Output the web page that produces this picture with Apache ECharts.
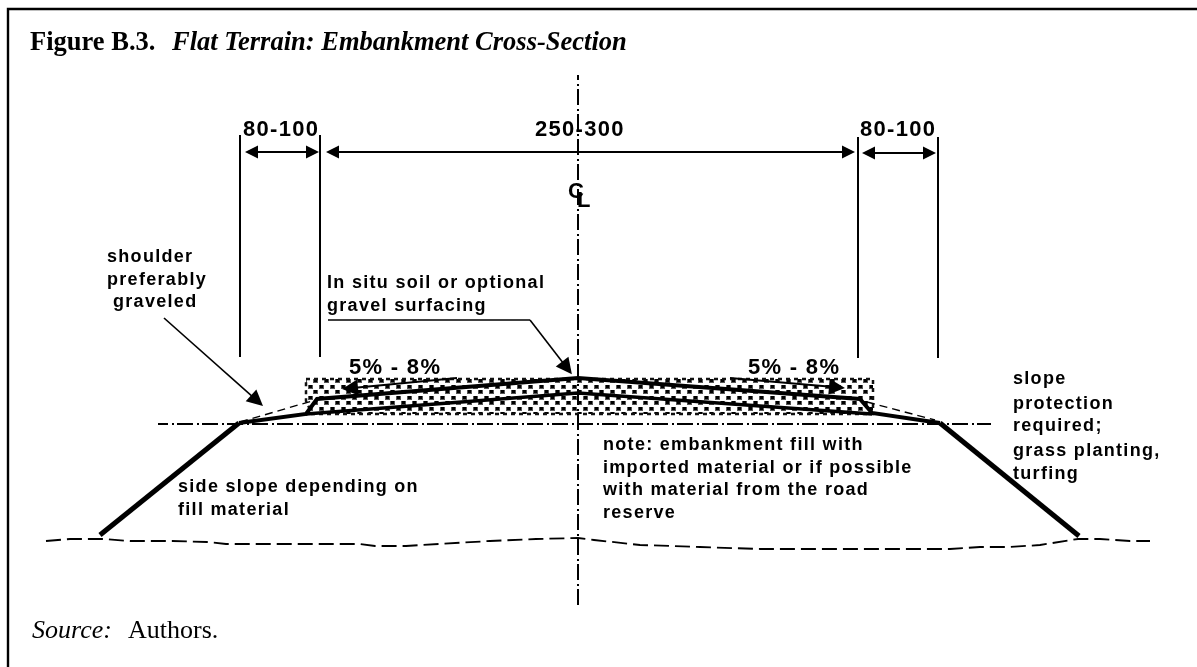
<!DOCTYPE html>
<html>
<head>
<meta charset="utf-8">
<title>Flat Terrain: Embankment Cross-Section</title>
<script src="https://cdn.jsdelivr.net/npm/echarts@6/dist/echarts.min.js"></script>
<style>
  html, body { margin: 0; padding: 0; background: #fff; }
  #echarts_container { width: 1197px; height: 667px; }
</style>
</head>
<body>
<div id="echarts_container"></div>
<script>
const frameLine = [[8, 667], [8, 9], [1197, 9]];
const roadProfile = [[100, 535], [239, 423], [306, 414], [317, 399], [578, 378], [860, 399], [872, 413], [940, 423], [1079, 536]];
const lowerCrown = [[306, 414], [578, 393], [872, 414]];
const leftDashed = [[240, 422], [312, 401]];
const rightDashed = [[867, 402], [935, 420]];
const stippleBand = [[306, 379], [873, 379], [873, 414], [312, 414], [306, 401]];
const groundLine = [[46, 541], [70, 539], [103, 539], [130, 541], [172, 541], [207, 542], [226, 544], [360, 544], [375, 546], [406, 546], [421, 545], [490, 541], [536, 539], [578, 538], [594, 540], [640, 545], [700, 547], [760, 549], [830, 549], [900, 549], [950, 549], [980, 547], [1010, 547], [1040, 545], [1078, 539], [1100, 539], [1130, 541], [1150, 541]];
const centreVertical = [[578, 75], [578, 608]];
const centreHorizontal = [[158, 424], [991, 424]];
const extensionLines = [
  [[240, 135], [240, 357]],
  [[320, 135], [320, 357]],
  [[858, 137], [858, 358]],
  [[938, 137], [938, 358]]
];
const gravelUnderline = [[328, 320], [530, 320]];

const dimensionArrows = [
  [[251.5, 152], [312.5, 152]],
  [[332.5, 152], [848.5, 152]],
  [[868.5, 153], [929.5, 153]]
];
const slopeArrows = [
  [[457, 378], [350, 388.2]],
  [[730, 378], [837, 387.3]]
];
const leaderArrows = [
  [[164, 318], [257, 400.7]],
  [[530, 320], [567, 368]]
];

const sansLabels = [
  ['80-100', 243, 138, 22],
  ['250-300', 535, 138, 22],
  ['80-100', 860, 138, 22],
  ['C', 568, 200, 22],
  ['L', 577, 209, 22],
  ['shoulder', 107, 263, 18],
  ['preferably', 107, 286, 18],
  ['graveled', 113, 308, 18],
  ['In situ soil or optional', 327, 289, 18],
  ['gravel surfacing', 327, 312, 18],
  ['5% - 8%', 349, 376, 22],
  ['5% - 8%', 748, 376, 22],
  ['side slope depending on', 178, 493, 18],
  ['fill material', 178, 516, 18],
  ['note: embankment fill with', 603, 451, 18],
  ['imported material or if possible', 603, 474, 18],
  ['with material from the road', 603, 496, 18],
  ['reserve', 603, 519, 18],
  ['slope', 1013, 385, 18],
  ['protection', 1013, 410, 18],
  ['required;', 1013, 432, 18],
  ['grass planting,', 1013, 457, 18],
  ['turfing', 1013, 480, 18]
];
const serifLabels = [
  ['Figure B.3.', 30, 53, 'bold', 26.5],
  ['Flat Terrain: Embankment Cross-Section', 172, 53, 'italic bold', 26.5],
  ['Source:', 32, 640, 'italic', 26],
  ['Authors.', 128, 640, 'normal', 26]
];

// the diagram labels are letter spaced, zrender has no option for that
const plainFillText = CanvasRenderingContext2D.prototype.fillText;
CanvasRenderingContext2D.prototype.fillText = function (text, x, y, maxWidth) {
  this.letterSpacing = this.font.indexOf('Liberation Sans') >= 0 ? '1.3px' : '0px';
  return maxWidth === undefined ? plainFillText.call(this, text, x, y) : plainFillText.call(this, text, x, y, maxWidth);
};

function makeStipple() {
  let canvas = document.createElement('canvas');
  canvas.width = 11;
  canvas.height = 11;
  let ctx = canvas.getContext('2d');
  ctx.fillStyle = '#555';
  ctx.fillRect(0, 0, 5, 4);
  ctx.fillRect(5, 5, 5, 4);
  ctx.fillStyle = '#000';
  ctx.fillRect(1, 0, 3, 3);
  ctx.fillRect(6, 5, 3, 3);
  return canvas;
}

function polyline(points, width, dash, dashOffset) {
  return {
    type: 'line',
    data: points,
    showSymbol: false,
    silent: true,
    animation: false,
    lineStyle: { color: '#000', width: width, type: dash || 'solid', dashOffset: dashOffset || 0, cap: 'butt', join: 'miter' }
  };
}

function arrows(list, size, width, ends) {
  return {
    type: 'lines',
    coordinateSystem: 'cartesian2d',
    silent: true,
    animation: false,
    symbol: ends || ['none', 'triangle'],
    symbolSize: size,
    lineStyle: { color: '#000', width: width, opacity: 1 },
    data: list.map(coords => ({ coords: coords }))
  };
}

// labels keep their baseline in the arrays, zrender's bottom align sits 0.153em under it
function textLayer(labels, sizeOf, fontOf) {
  return {
    type: 'custom',
    coordinateSystem: 'cartesian2d',
    silent: true,
    animation: false,
    data: labels.map((label, i) => [label[1], label[2], i]),
    renderItem: function (params, api) {
      let label = labels[api.value(2)];
      let point = api.coord([api.value(0), api.value(1)]);
      return {
        type: 'text',
        x: point[0],
        y: point[1] + 0.153 * sizeOf(label),
        style: { text: label[0], font: fontOf(label), fill: '#000', align: 'left', verticalAlign: 'bottom' }
      };
    }
  };
}

let chart = echarts.init(document.getElementById('echarts_container'));
let stipple = makeStipple();

let option = {
  backgroundColor: '#fff',
  grid: { left: 0, right: 0, top: 0, bottom: 0 },
  xAxis: { type: 'value', min: 0, max: 1197, show: false },
  yAxis: { type: 'value', min: 0, max: 667, inverse: true, show: false },
  series: [
    {
      type: 'custom',
      coordinateSystem: 'cartesian2d',
      silent: true,
      animation: false,
      data: stippleBand,
      renderItem: function (params, api) {
        if (params.dataIndex !== 0) return null;
        return {
          type: 'polygon',
          shape: { points: stippleBand.map(p => api.coord(p)) },
          style: { fill: { image: stipple, repeat: 'repeat' }, stroke: '#111', lineWidth: 2.5, lineDash: [4, 4] }
        };
      }
    },
    polyline(frameLine, 2.4),
    polyline(centreVertical, 2, [16, 4, 2, 3], 11),
    polyline(centreHorizontal, 2, [16, 4, 2, 3], 6),
    polyline(groundLine, 1.8, [15, 6]),
    polyline(leftDashed, 1.4, [8, 5]),
    polyline(rightDashed, 1.4, [8, 5]),
    polyline(gravelUnderline, 1.6)
  ].concat(
    extensionLines.map(points => polyline(points, 2)),
    [
      polyline(roadProfile.slice(0, 2), 5),
      polyline(roadProfile.slice(1, 8), 4),
      polyline(roadProfile.slice(7), 5),
      polyline(lowerCrown, 3.6),
      arrows(dimensionArrows, 13, 1.8),
      arrows(dimensionArrows, 13, 1.8, ['triangle', 'none']),
      arrows(slopeArrows, 16, 2),
      arrows(leaderArrows, 16, 1.6),
      textLayer(sansLabels, label => label[3], label => 'bold ' + label[3] + 'px "Liberation Sans"'),
      textLayer(serifLabels, label => label[4], label => label[3] + ' ' + label[4] + 'px "Liberation Serif"')
    ]
  )
};

chart.setOption(option);
</script>
</body>
</html>
